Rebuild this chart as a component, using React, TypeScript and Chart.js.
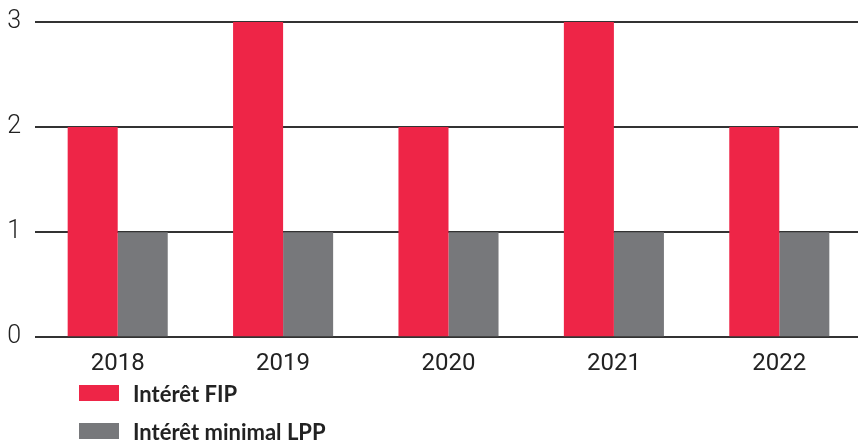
import React, { useEffect, useRef } from "react";
import { Chart, registerables } from "chart.js";

Chart.register(...registerables);

const categories = ["2018", "2019", "2020", "2021", "2022"];
const fipValues = [2, 3, 2, 3, 2];
const lppValues = [1, 1, 1, 1, 1];
const seriesNames = ["Intérêt FIP", "Intérêt minimal LPP"];
const seriesColors = ["#EE2547", "#77787B"];

export default function App() {
  const ref = useRef<HTMLCanvasElement | null>(null);

  useEffect(() => {
    if (!ref.current) return;
    const chart = new Chart(ref.current, {
      type: "bar",
      data: {
        labels: categories,
        datasets: [
          { label: seriesNames[0], data: fipValues, backgroundColor: seriesColors[0], barPercentage: 1, categoryPercentage: 0.605 },
          { label: seriesNames[1], data: lppValues, backgroundColor: seriesColors[1], barPercentage: 1, categoryPercentage: 0.605 },
        ],
      },
      options: {
        animation: false,
        responsive: false,
        maintainAspectRatio: false,
        layout: { padding: { left: 0, right: 0, top: 22, bottom: 60 } },
        plugins: { legend: { display: false }, tooltip: { enabled: false } },
        scales: {
          x: {
            grid: { display: false },
            border: { display: false },
            ticks: { color: "#222", padding: 4, font: { family: "Roboto", size: 24, weight: 400 } },
          },
          y: {
            min: 0,
            max: 3,
            afterFit: (scale: any) => { scale.width = 35; scale.paddingTop = 0; scale.paddingBottom = 0; },
            ticks: { stepSize: 1, color: "#222", padding: 14, font: { family: "Roboto", size: 25, weight: 300 } },
            grid: { color: "#333", lineWidth: 2, drawTicks: false },
            border: { display: false },
          },
        },
      },
    });
    return () => chart.destroy();
  }, []);

  return (
    <div style={{ position: "fixed", left: 0, top: 0, width: 858, height: 442, background: "#fff", overflow: "hidden" }}>
      <canvas ref={ref} width={862} height={442} style={{ display: "block" }} />
      <div style={{ position: "absolute", left: 79, top: 380, fontFamily: "Lato", fontWeight: 700, fontSize: 22, color: "#222" }}>
        {seriesNames.map((n, i) => (
          <div key={n} style={{ display: "flex", alignItems: "center", height: 26, marginBottom: i === 0 ? 12 : 0 }}>
            <span style={{ display: "inline-block", width: 40, height: 16, background: seriesColors[i], marginRight: 14 }} />
            <span>{n}</span>
          </div>
        ))}
      </div>
    </div>
  );
}
